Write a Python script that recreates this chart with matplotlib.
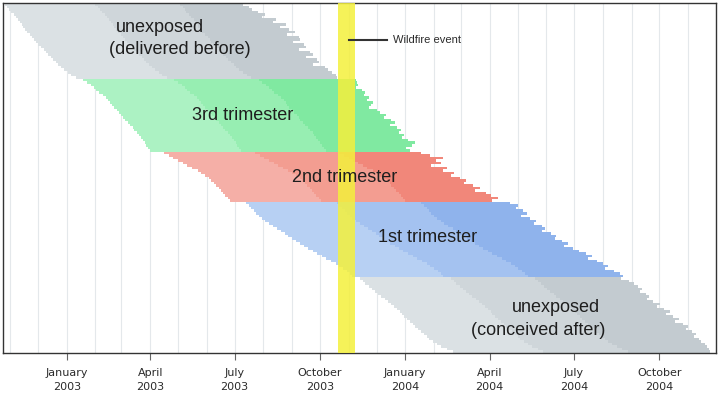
import numpy as np
import matplotlib
matplotlib.use("Agg")
import matplotlib.pyplot as plt
import matplotlib.dates as mdates

# each pregnancy as days after 1 January 2003: start (conception) and end (delivery)
before_start = [-67, -64, -62, -60, -57, -55, -52, -50, -48, -47, -45, -43, -40, -37, -35,
                -33, -31, -28, -25, -22, -20, -17, -15, -12, -9, -6, -3, 1, 5, 10]
before_end = [190, 196, 200, 206, 214, 210, 226, 222, 236, 230, 240, 246, 238, 250, 252,
              244, 256, 258, 250, 262, 266, 258, 270, 272, 266, 278, 282, 286, 290, 291]

third_start = [18, 22, 26, 29, 32, 35, 39, 42, 45, 47, 49, 51, 54, 56, 59,
               61, 63, 66, 68, 71, 73, 76, 78, 80, 82, 84, 86, 88, 90]
third_end = [312, 313, 314, 312, 318, 322, 320, 326, 324, 330, 328, 326, 334, 338, 344,
             342, 350, 354, 348, 356, 360, 358, 364, 362, 368, 376, 372, 366, 370]

second_start = [105, 110, 115, 120, 125, 130, 135, 141, 145, 149,
                153, 156, 159, 161, 164, 166, 169, 171, 174, 176]
second_end = [382, 392, 406, 398, 404, 393, 410, 406, 418, 414,
              424, 430, 428, 438, 446, 440, 452, 457, 465, 458]

first_start = [193, 196, 199, 202, 204, 207, 210, 214, 218, 222, 227, 231, 235, 239, 243,
               247, 251, 256, 260, 265, 270, 275, 280, 285, 290, 294, 298, 302, 305, 308]
first_end = [478, 486, 484, 492, 496, 490, 500, 506, 504, 512, 516, 512, 522, 528, 526,
             534, 540, 536, 546, 552, 560, 566, 562, 572, 578, 584, 580, 590, 596, 600]

after_start = [316, 319, 322, 326, 329, 332, 336, 339, 343, 346, 350, 353, 356, 359, 361,
               364, 367, 370, 373, 376, 379, 382, 385, 388, 391, 395, 399, 404, 410, 416]
after_end = [598, 606, 612, 616, 620, 618, 624, 628, 626, 632, 640, 636, 644, 650, 646,
             654, 660, 656, 664, 670, 668, 674, 678, 676, 682, 684, 688, 690, 692, 694]

fire_start = "2003-10-21"
fire_end = "2003-11-08"

tick_dates = ["2003-01-01", "2003-04-01", "2003-07-01", "2003-10-01",
              "2004-01-01", "2004-04-01", "2004-07-01", "2004-10-01"]
tick_labels = ["January\n2003", "April\n2003", "July\n2003", "October\n2003",
               "January\n2004", "April\n2004", "July\n2004", "October\n2004"]

# trimester boundaries inside each pregnancy (days from start)
T1_DAYS = 98
T2_DAYS = 189

# light / mid / dark shade per group (1st, 2nd, 3rd trimester of the pregnancy)
groups = [
    (before_start, before_end, ["#dbe1e4", "#cfd6da", "#c3cbd0"]),
    (third_start, third_end, ["#acf2c3", "#97eeb2", "#80e9a1"]),
    (second_start, second_end, ["#f5afa7", "#f39d91", "#f1877a"]),
    (first_start, first_end, ["#b7d0f3", "#a4c2f0", "#8fb3ec"]),
    (after_start, after_end, ["#dbe1e4", "#cfd6da", "#c3cbd0"]),
]

base = mdates.date2num(np.datetime64("2003-01-01"))

fig = plt.figure(figsize=(7.19, 4.15), dpi=100)
ax = fig.add_axes([3 / 719, 1 - 353 / 415, 713 / 719, 350 / 415])

row = 0
for starts, ends, shades in groups:
    s = base + np.array(starts, dtype=float)
    e = base + np.array(ends, dtype=float)
    y = row + np.arange(len(starts))
    b1 = np.minimum(e, s + T1_DAYS)
    b2 = np.minimum(e, s + T2_DAYS)
    ax.barh(y, b1 - s, left=s, height=1.0, color=shades[0], linewidth=0, zorder=2)
    ax.barh(y, b2 - b1, left=b1, height=1.0, color=shades[1], linewidth=0, zorder=2)
    ax.barh(y, e - b2, left=b2, height=1.0, color=shades[2], linewidth=0, zorder=2)
    row += len(starts)

fs = mdates.date2num(np.datetime64(fire_start))
fe = mdates.date2num(np.datetime64(fire_end))
ax.axvspan(fs, fe, color="#f4f03c", alpha=0.85, lw=0, zorder=3)

ax.set_ylim(row - 0.5, -0.5)
ax.set_xlim(base - 68.7, base + 696.4)
ax.set_yticks([])

major = [mdates.date2num(np.datetime64(d)) for d in tick_dates]
ax.set_xticks(major)
ax.set_xticklabels(tick_labels, fontsize=8, color="#2b2b2b",
                   family=["DejaVu Sans"], linespacing=1.45)
months = np.arange(np.datetime64("2002-11"), np.datetime64("2005-01"), np.timedelta64(1, "M"))
ax.set_xticks(mdates.date2num(months.astype("datetime64[D]")), minor=True)
ax.tick_params(axis="x", which="major", length=5, width=0.8, color="#666666", pad=6)
ax.tick_params(axis="x", which="minor", length=0)
ax.grid(True, axis="x", which="both", color="#e4e8eb", lw=0.8, zorder=0)
ax.set_axisbelow(True)
for sp in ax.spines.values():
    sp.set_color("#333333")
    sp.set_linewidth(1.0)

lab = dict(fontsize=13, color="#1e1e1e", family=["Liberation Sans", "DejaVu Sans"],
           ha="center", va="center")
W, H = 719, 415
fig.text(160 / W, 1 - 28 / H, "unexposed", **lab)
fig.text(180 / W, 1 - 50 / H, "(delivered before)", **lab)
fig.text(243 / W, 1 - 115 / H, "3rd trimester", **lab)
fig.text(345 / W, 1 - 177 / H, "2nd trimester", **lab)
fig.text(428 / W, 1 - 237 / H, "1st trimester", **lab)
fig.text(556 / W, 1 - 307 / H, "unexposed", **lab)
fig.text(538 / W, 1 - 330 / H, "(conceived after)", **lab)

fig.add_artist(plt.Line2D([349 / W, 387 / W], [1 - 40 / H, 1 - 40 / H],
                          color="#333333", lw=1.5))
fig.text(393 / W, 1 - 40 / H, "Wildfire event", fontsize=8, color="#2b2b2b",
         family=["Liberation Sans", "DejaVu Sans"], ha="left", va="center")

fig.savefig("out.png", dpi=100)
